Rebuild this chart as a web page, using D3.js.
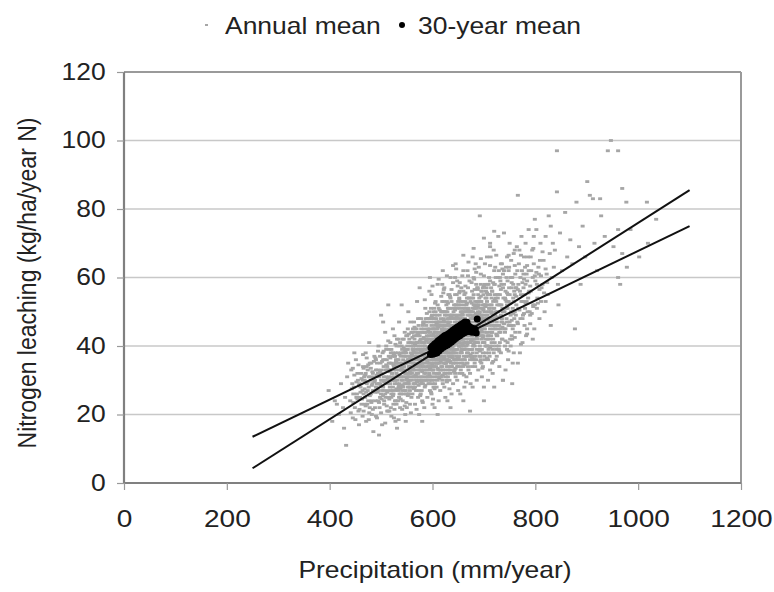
<!DOCTYPE html>
<html><head><meta charset="utf-8">
<script src="https://cdn.jsdelivr.net/npm/d3@7/dist/d3.min.js"></script>
<style>
html,body{margin:0;padding:0;background:#fff;}
svg text{font-family:"Liberation Sans",Arial,sans-serif;fill:#222;}
</style></head>
<body><svg id="c" width="774" height="592"></svg>
<script>
const xTicks = [0,200,400,600,800,1000,1200];
const yTicks = [0,20,40,60,80,100,120];
const legendLabels = ["Annual mean","30-year mean"];
const xTitle = "Precipitation (mm/year)";
const yTitle = "Nitrogen leaching (kg/ha/year N)";

// regression lines: [x1,y1,x2,y2]
const fitLines = [[250,4.3,1100,85.5],[250,13.5,1100,75]];

// 30-year mean points [precip, leaching]
const meanPts = [[596,37.5],[597,39.5],[599,38],[600,40],[601,37.6],[602,39],[604,40.6],[605,37.8],[606,39.3],[608,41],[609,38],[610,39.8],[611,41.5],[613,38.6],[614,40.5],[615,42],[617,39.2],[618,41],[619,42.5],[621,39.6],[622,41.3],[623,43],[625,40],[626,41.7],[627,43.2],[629,40.3],[630,42],[631,43.6],[633,40.7],[634,42.3],[635,44],[637,41.2],[638,42.8],[639,44.5],[641,41.7],[642,43.3],[643,45],[645,42.2],[646,43.8],[647,45.4],[649,42.6],[650,44.2],[651,45.8],[653,43],[654,44.6],[655,46.2],[657,43.4],[658,45],[659,46.6],[661,43.8],[662,45.4],[663,47],[665,44.1],[666,45.6],[667,46.9],[669,44.3],[671,45.8],[673,44.2],[675,45.3],[677,44],[679,45.1],[681,44.2],[683,44.9],[685,43.8],[687,47.9],[612,40],[624,41.5],[636,42.5],[648,44],[660,45]];

// annual mean points [precip, leaching]
const annualPts = [
[398,27],[405,18],[410,24],[414,23],[432,11],[436,35],
[418,20],[422,29],[428,16],[430,25],[434,31],[426,22],
[440,24],[442,33],[445,19],[447,28],[449,22],[451,36],[453,26],[455,30],[457,17],[459,25],[461,32],[444,29],[456,21],[448,38],
[464,27],[465,34],[466,21],[468,30],[469,25],[470,38],[471,18],[472,29],[474,33],[475,24],[476,28],[477,41],[478,22],[479,31],[480,26],[481,35],[482,20],[483,29],[484,32],[485,15],[486,27],[487,37],[473,23],[467,31],
[488,30],[489,24],[490,36],[491,28],[492,19],[493,33],[494,27],[495,40],[496,31],[497,22],[498,29],[499,35],[500,26],[501,32],[502,17],[503,38],[504,28],[505,34],[506,23],[507,30],[508,44],[509,25],[510,31],[511,36],[512,21],[490,28],[494,32],[498,25],[502,30],[506,27],[510,39],[504,47],[496,14],[500,33],[492,29],[508,26],[512,34],[500,49],
[513,30],[514,25],[515,37],[516,33],[517,28],[518,41],[519,22],[520,31],[521,35],[522,27],[523,45],[524,30],[525,19],[526,34],[527,29],[528,38],[529,24],[530,32],[531,16],[532,36],[533,27],[534,42],[535,31],[536,26],[537,35],[514,33],[516,21],[518,29],[520,39],[522,32],[524,26],[526,43],[528,30],[530,23],[532,34],[534,28],[536,40],[515,31],[517,35],[519,27],[521,30],[523,38],[525,33],[527,24],[529,36],[531,29],[533,31],[535,47],[537,22],[526,37],[520,26],[530,35],[514,52],[528,18],
[538,33],[539,28],[540,40],[541,35],[542,24],[543,31],[544,37],[545,29],[546,44],[547,33],[548,27],[549,38],[550,22],[551,35],[552,31],[553,41],[554,26],[555,34],[556,30],[557,47],[558,36],[559,25],[560,32],[561,39],[562,28],[538,37],[540,30],[542,42],[544,26],[546,35],[548,32],[550,39],[552,28],[554,36],[556,23],[558,33],[560,41],[562,35],[539,31],[541,27],[543,38],[545,34],[547,20],[549,30],[551,43],[553,33],[555,28],[557,37],[559,31],[561,26],[540,52],[546,39],[552,36],[558,40],[544,33],[550,29],[556,34],[562,45],[548,18],[554,31],[560,36],[542,34],[553,50],[547,29],[557,32],
[563,36],[564,31],[565,42],[566,28],[567,38],[568,34],[569,45],[570,30],[571,37],[572,25],[573,40],[574,33],[575,48],[576,29],[577,36],[578,41],[579,27],[580,35],[581,31],[582,44],[583,38],[584,22],[585,33],[586,39],[587,30],[563,40],[565,33],[567,29],[569,37],[571,43],[573,31],[575,36],[577,26],[579,39],[581,34],[583,47],[585,28],[587,42],[564,35],[566,39],[568,27],[570,44],[572,36],[574,30],[576,40],[578,33],[580,24],[582,38],[584,35],[586,31],[563,29],[567,41],[571,33],[575,38],[579,35],[583,30],[587,36],[565,37],[569,31],[573,46],[577,34],[581,40],[585,37],[564,43],[568,38],[572,32],[576,35],[580,39],[584,41],[570,53],[574,20],[578,45],[582,29],[586,51],[566,23],[575,57],[580,18],[585,44],[572,39],[577,30],
[588,38],[589,33],[590,44],[591,36],[592,29],[593,41],[594,35],[595,48],[596,31],[597,39],[598,26],[599,43],[600,37],[601,33],[602,50],[603,40],[604,30],[605,36],[606,45],[607,34],[608,28],[609,42],[610,38],[611,32],[612,47],[588,42],[590,35],[592,39],[594,45],[596,37],[598,33],[600,41],[602,28],[604,44],[606,36],[608,40],[610,30],[612,37],[589,47],[591,31],[593,37],[595,27],[597,43],[599,35],[601,39],[603,32],[605,46],[607,41],[609,35],[611,43],[588,30],[592,48],[596,44],[600,31],[604,38],[608,35],[612,41],[590,39],[594,32],[598,40],[602,36],[606,31],[610,46],[589,37],[593,34],[597,51],[601,45],[605,29],[609,38],[591,42],[595,38],[599,30],[603,47],[607,37],[611,36],[594,56],[600,23],[606,53],[612,24],[590,25],[598,55],[604,22],[610,58],[596,34],[602,42],[608,44],[592,35],[600,48],[605,40],[595,60],[610,20],[603,35],
[613,40],[614,35],[615,46],[616,38],[617,31],[618,43],[619,37],[620,50],[621,33],[622,41],[623,28],[624,45],[625,39],[626,35],[627,52],[628,42],[629,32],[630,38],[631,47],[632,36],[633,30],[634,44],[635,40],[636,34],[637,49],[613,44],[615,37],[617,41],[619,47],[621,39],[623,35],[625,43],[627,30],[629,46],[631,38],[633,42],[635,32],[637,39],[614,49],[616,33],[618,39],[620,29],[622,45],[624,37],[626,41],[628,34],[630,48],[632,43],[634,37],[636,45],[613,32],[617,50],[621,46],[625,33],[629,40],[633,37],[637,43],[615,41],[619,34],[623,42],[627,38],[631,33],[635,48],[614,39],[618,36],[622,53],[626,47],[630,31],[634,40],[616,44],[620,40],[624,32],[628,49],[632,39],[636,38],[619,58],[625,25],[631,55],[637,26],[615,27],[623,57],[629,24],[635,60],[621,36],[627,44],[633,46],[617,37],[625,50],[630,42],[620,62],[635,22],[628,36],[618,45],[626,31],[632,51],
[638,42],[639,37],[640,48],[641,40],[642,33],[643,45],[644,39],[645,52],[646,35],[647,43],[648,30],[649,47],[650,41],[651,37],[652,54],[653,44],[654,34],[655,40],[656,49],[657,38],[658,32],[659,46],[660,42],[661,36],[662,51],[638,46],[640,39],[642,43],[644,49],[646,41],[648,37],[650,45],[652,32],[654,48],[656,40],[658,44],[660,34],[662,41],[639,51],[641,35],[643,41],[645,31],[647,47],[649,39],[651,43],[653,36],[655,50],[657,45],[659,39],[661,47],[638,34],[642,52],[646,48],[650,35],[654,42],[658,39],[662,45],[640,43],[644,36],[648,44],[652,40],[656,35],[660,50],[639,41],[643,38],[647,55],[651,49],[655,33],[659,42],[641,46],[645,42],[649,34],[653,51],[657,41],[661,40],[644,60],[650,27],[656,57],[662,28],[640,29],[648,59],[654,26],[660,62],[646,38],[652,46],[658,48],[642,39],[650,53],[655,44],[645,64],[660,24],
[663,44],[664,39],[665,50],[666,42],[667,35],[668,47],[669,41],[670,54],[671,37],[672,45],[673,32],[674,49],[675,43],[676,39],[677,56],[678,46],[679,36],[680,42],[681,51],[682,40],[683,34],[684,48],[685,44],[686,38],[687,53],[663,48],[665,41],[667,45],[669,51],[671,43],[673,39],[675,47],[677,34],[679,50],[681,42],[683,46],[685,36],[687,43],[664,53],[666,37],[668,43],[670,33],[672,49],[674,41],[676,45],[678,38],[680,52],[682,47],[684,41],[686,49],[663,36],[667,54],[671,50],[675,37],[679,44],[683,41],[687,47],[665,45],[669,38],[673,46],[677,42],[681,37],[685,52],[668,62],[674,29],[680,60],[686,30],[666,31],[672,59],[678,28],[684,64],[670,44],[676,50],[682,35],[673,21],[678,66],
[688,46],[689,41],[690,52],[691,44],[692,37],[693,49],[694,43],[695,56],[696,39],[697,47],[698,34],[699,51],[700,45],[701,41],[702,58],[703,48],[704,38],[705,44],[706,53],[707,42],[708,36],[709,50],[710,46],[711,40],[712,55],[688,50],[690,43],[692,47],[694,53],[696,45],[698,41],[700,49],[702,36],[704,52],[706,44],[708,48],[710,38],[712,45],[689,55],[691,39],[693,45],[695,35],[697,51],[699,43],[701,47],[703,40],[705,54],[707,49],[709,43],[711,51],[692,78],[690,63],[696,31],[702,64],[708,30],[694,61],[700,28],[706,66],[712,33],[698,57],[704,46],[710,60],[689,33],[695,48],[701,37],[707,58],[712,70],[700,24],[705,40],
[713,48],[714,43],[715,54],[716,46],[717,39],[718,51],[719,45],[720,58],[721,41],[722,49],[723,36],[724,53],[725,47],[726,43],[727,60],[728,50],[729,40],[730,46],[731,55],[732,44],[733,38],[734,52],[735,48],[736,42],[737,57],[714,50],[716,56],[718,42],[720,48],[722,63],[724,39],[726,52],[728,45],[730,34],[732,59],[734,47],[736,51],[713,66],[717,32],[721,55],[725,37],[729,62],[733,49],[737,30],[715,44],[719,68],[723,46],[727,54],[731,41],[735,64],[712,69],[728,72],[720,28],[737,50],[716,35],
[738,50],[740,45],[742,56],[744,48],[746,41],[748,53],[750,47],[752,60],[754,43],[756,51],[758,38],[760,55],[762,49],[739,58],[741,44],[743,63],[745,52],[747,36],[749,57],[751,46],[753,65],[755,42],[757,54],[759,48],[761,61],[737,30],[755,29],[742,33],[750,70],[758,67],[745,39],[753,50],[761,44],[739,73],[748,62],[756,35],[762,57],[744,53],[760,68],[752,40],[746,59],[758,46],
[763,52],[765,47],[767,58],[769,44],[770,38],[772,55],[774,62],[776,49],[778,66],[780,51],[782,43],[784,59],[786,54],[764,69],[766,84],[768,64],[771,48],[773,72],[775,41],[777,57],[779,46],[781,70],[783,61],[785,50],[787,74],[770,56],[766,35],[776,53],[784,45],[780,63],
[788,56],[790,49],[792,62],[794,68],[796,52],[798,45],[800,59],[802,74],[804,54],[806,63],[808,48],[810,70],[812,57],[791,66],[795,42],[799,77],[803,51],[807,61],[811,53],[797,72],
[814,58],[816,65],[818,50],[820,72],[822,61],[824,55],[826,78],[828,67],[830,46],[832,60],[834,70],[836,63],[820,53],[830,75],
[838,68],[842,85],[844,58],[848,73],[852,62],[842,97],[858,79],[862,66],[845,52],
[868,71],[872,64],[877,45],[880,82],[885,69],[888,58],
[892,75],[897,66],[901,88],[906,84],[912,83],[915,70],[920,62],[926,83],
[928,78],[935,72],[941,97],[947,100],[952,69],[961,97],[965,58],[961,60],[969,86],[978,63],[977,82],[985,74],[961,74],[969,67],
[1002,66],[1017,82],[1019,70],[1035,77],
[505,31],[507,36],[509,29],[511,33],[513,27],[515,35],[517,30],[519,38],[521,32],[523,28],[525,34],[506,24],[510,40],[514,21],[518,33],[522,37],[524,23],[508,33],[512,29],[516,39],[520,25],
[526,31],[527,37],[528,27],[529,33],[530,40],[531,35],[532,30],[533,24],[534,36],[535,33],[536,29],[537,41],[538,35],[539,26],[540,33],[541,39],[542,30],[543,36],[544,42],[545,31],[546,27],[547,37],[548,35],[549,43],[550,32],[527,30],[531,42],[535,25],[539,38],[543,28],[547,32],[551,37],[529,35],[533,38],[537,31],[541,33],[545,38],[549,26],
[551,31],[552,39],[553,36],[554,29],[555,42],[556,37],[557,28],[558,35],[559,44],[560,30],[561,36],[562,40],[563,33],[564,38],[565,29],[566,45],[567,35],[568,40],[569,32],[570,37],[571,41],[572,34],[573,27],[574,39],[575,43],[552,45],[554,34],[556,27],[558,38],[560,44],[562,31],[564,47],[566,34],[568,30],[570,41],[572,48],[574,36],[553,26],[557,41],[561,33],[565,36],[569,43],[573,35],[551,40],[555,32],[559,37],[563,44],[567,31],[571,38],[575,30],
[576,37],[577,42],[578,31],[579,44],[580,38],[581,35],[582,47],[583,33],[584,40],[585,36],[586,44],[587,32],[588,46],[589,39],[590,31],[591,45],[592,37],[593,43],[594,29],[595,40],[596,47],[597,35],[598,42],[599,38],[600,45],[576,44],[578,38],[580,30],[582,41],[584,45],[586,36],[588,34],[590,48],[592,42],[594,38],[596,30],[598,46],[600,34],[577,33],[579,39],[581,46],[583,37],[585,41],[587,48],[589,43],[591,34],[593,30],[595,44],[597,40],[599,49],[578,48],[582,34],[586,40],[590,42],[594,50],[598,36],[580,42],[584,32],[588,39],[592,33],[596,41],[600,29],
[601,42],[602,37],[603,45],[604,34],[605,49],[606,40],[607,35],[608,47],[609,31],[610,43],[611,39],[612,51],[613,36],[614,42],[615,33],[616,48],[617,39],[618,45],[619,30],[620,43],[621,50],[622,37],[623,46],[624,40],[625,35],[601,48],[603,36],[605,42],[607,48],[609,45],[611,33],[613,47],[615,43],[617,34],[619,41],[621,42],[623,32],[625,46],[602,33],[604,48],[606,43],[608,38],[610,52],[612,35],[614,46],[616,40],[618,31],[620,47],[622,43],[624,49],[601,36],[605,38],[609,49],[613,39],[617,46],[621,35],[625,41],[603,51],[607,44],[611,47],[615,38],[619,53],[623,39],[604,41],[608,32],[612,44],[616,36],[620,38],[624,44],[606,50],[610,36],[614,31],[618,50],[622,48],
[626,44],[627,39],[628,47],[629,36],[630,51],[631,42],[632,37],[633,49],[634,33],[635,45],[636,41],[637,53],[638,38],[639,44],[640,35],[641,50],[642,41],[643,47],[644,32],[645,45],[646,52],[647,39],[648,48],[649,42],[650,37],[626,50],[628,38],[630,44],[632,48],[634,47],[636,35],[638,49],[640,45],[642,36],[644,43],[646,44],[648,34],[650,48],[627,35],[629,50],[631,45],[633,40],[635,54],[637,37],[639,48],[641,42],[643,33],[645,49],[647,45],[649,51],[626,38],[630,40],[634,51],[638,41],[642,48],[646,37],[650,43],[628,53],[632,46],[636,49],[640,40],[644,55],[648,41],[627,43],[631,34],[635,37],[639,38],[643,51],[647,36],[629,43],[633,55],[637,46],[641,38],[645,36],[649,46],
[651,46],[652,41],[653,49],[654,38],[655,53],[656,44],[657,39],[658,51],[659,35],[660,47],[661,43],[662,55],[663,40],[664,46],[665,37],[666,52],[667,43],[668,49],[669,34],[670,47],[671,54],[672,41],[673,50],[674,44],[675,39],[651,52],[653,40],[655,46],[657,50],[659,49],[661,37],[663,51],[665,47],[667,38],[669,45],[671,46],[673,36],[675,50],[652,37],[654,52],[656,47],[658,42],[660,56],[662,39],[664,50],[666,44],[668,35],[670,51],[672,47],[674,53],[651,40],[655,42],[659,53],[663,43],[667,50],[671,39],[675,45],[653,56],[657,46],[661,52],[665,41],[669,57],[673,43],[654,45],[658,36],[662,48],[666,40],[670,42],[674,48],
[676,48],[677,43],[678,51],[679,40],[680,55],[681,46],[682,41],[683,53],[684,37],[685,49],[686,45],[687,57],[688,42],[689,48],[690,39],[691,54],[692,45],[693,51],[694,36],[695,49],[696,56],[697,43],[698,52],[699,46],[700,41],[676,54],[678,42],[680,48],[682,52],[684,51],[686,39],[688,53],[690,49],[692,40],[694,47],[696,48],[698,38],[700,52],[677,39],[679,54],[681,49],[683,44],[685,58],[687,41],[689,52],[691,46],[693,37],[695,53],[697,49],[699,55],[680,44],[684,45],[688,57],[692,50],[696,42],[700,48],[682,36],[686,51],[690,44],[694,58],[698,44],
[701,50],[702,45],[703,54],[704,42],[705,57],[706,48],[707,43],[708,55],[709,39],[710,51],[711,47],[712,59],[713,44],[714,50],[715,41],[716,56],[717,47],[718,53],[719,38],[720,51],[721,58],[722,45],[723,54],[724,48],[725,43],[702,52],[704,56],[706,40],[708,50],[710,55],[712,42],[714,57],[716,44],[718,48],[720,62],[722,50],[724,40],[703,46],[707,52],[711,37],[715,52],[719,46],[723,60],[705,49],[709,58],[713,52],[717,40],[721,49],[725,55],
[726,50],[728,55],[730,44],[732,52],[734,58],[736,47],[738,54],[740,50],[742,45],[744,60],[746,51],[748,46],[750,55],[752,49],[754,57],[756,45],[758,53],[760,50],[727,46],[731,60],[735,42],[739,62],[743,51],[747,55],[751,42],[755,60],[759,56],[729,52],[733,45],[737,61],[741,54],[745,47],[749,63],[753,46],[757,58],[729,39],[745,66],[733,64],[741,40],
[763,57],[767,51],[771,60],[775,48],[779,55],[783,53],[787,62],[791,56],[795,60],[799,52],[765,62],[773,53],[781,58],[789,50],[797,64],[803,58],[809,65],[769,68],[777,61],[785,66],
[452,25],[458,29],[462,23],[466,26],[470,32],[474,27],[478,35],[482,24],[486,31],[490,33],[494,24],[498,37],[502,27],[460,28],[468,23],[476,31],[484,27],[492,35],[500,30],[504,36],[446,26],[454,32],[480,30],[488,22],[496,29],[472,34],[464,30],
[441,20.5],[443,27.5],[446,23.5],[448,31.5],[450,18.5],[452,29.5],[454,24.5],[456,34.5],[458,21.5],[460,26.5],[462,30.5],[464,19.5],[466,33.5],[468,27.5],[470,22.5],[472,36.5],[474,29.5],[476,18.5],[478,25.5],[480,33.5],[482,28.5],[484,21.5],[486,35.5],[488,26.5],[490,19.5],[492,31.5],[494,38.5],[496,23.5],[498,32.5],[500,20.5],[502,35.5],[504,25.5],[506,29.5],[508,17.5],[510,34.5],[512,26.5],[514,41.5],[516,24.5],[518,36.5],[520,19.5],[522,30.5],[524,34.5],[526,21.5],[528,40.5],[530,27.5],[532,31.5],[534,18.5],[536,37.5],[538,24.5],[540,33.5],[542,28.5],[544,39.5],[546,22.5],[548,35.5],[550,30.5],[552,25.5],[554,43.5],[556,32.5],[558,20.5],[560,37.5],
[445,33.5],[457,28.5],[463,24.5],[469,31.5],[475,34.5],[481,23.5],[487,29.5],[493,26.5],[499,28.5],[505,38.5],[511,22.5],[517,32.5],[523,25.5],[529,35.5],[535,28.5],[541,21.5],[547,38.5],[553,29.5],[559,33.5],[465,37.5],[477,20.5],[489,36.5],[501,24.5],[513,30.5],[525,37.5],[537,27.5],[549,23.5],[561,42.5],[471,26.5],[483,32.5],
[562,33.5],[564,27.5],[566,40.5],[568,36.5],[570,29.5],[572,43.5],[574,34.5],[576,25.5],[578,38.5],[580,32.5],[582,46.5],[584,37.5],[586,28.5],[588,41.5],[590,35.5],[592,44.5],[594,31.5],[596,39.5],[598,48.5],[600,34.5],[602,43.5],[604,27.5],[606,38.5],[608,46.5],[610,33.5],[612,40.5],[614,50.5],[616,35.5],[618,42.5],[620,31.5],[622,47.5],[624,38.5],[626,44.5],[628,29.5],[630,52.5],[632,41.5],[634,35.5],[636,48.5],[638,39.5],[640,45.5],[642,32.5],[644,50.5],[646,40.5],[648,46.5],[650,36.5],[652,53.5],[654,43.5],[656,38.5],[658,49.5],[660,44.5],[662,34.5],[664,55.5],[666,47.5],[668,40.5],[670,50.5],[672,43.5],[674,37.5],[676,52.5],[678,45.5],[680,40.5],[682,56.5],[684,49.5],[686,42.5],[688,51.5],[690,46.5],[692,38.5],[694,54.5],[696,47.5],[698,42.5],[700,57.5],
[563,38.5],[567,31.5],[571,36.5],[575,41.5],[579,29.5],[583,42.5],[587,36.5],[591,39.5],[595,33.5],[599,41.5],[603,37.5],[607,42.5],[611,45.5],[615,39.5],[619,44.5],[623,36.5],[627,41.5],[631,46.5],[635,42.5],[639,36.5],[643,43.5],[647,48.5],[651,42.5],[655,47.5],[659,40.5],[663,46.5],[667,52.5],[671,45.5],[675,41.5],[679,48.5],[683,51.5],[687,45.5],[691,49.5],[695,44.5],[699,50.5],
[565,45.5],[573,28.5],[581,23.5],[589,49.5],[597,26.5],[605,52.5],[613,30.5],[621,55.5],[629,35.5],[637,56.5],[645,33.5],[653,58.5],[661,31.5],[669,60.5],[677,36.5],[685,61.5],[693,35.5],[569,21.5],[585,53.5],[601,24.5],[617,54.5],[633,27.5],[649,57.5],[665,29.5],[681,59.5],[697,33.5],
[622,56.5],[628,60.5],[634,54.5],[640,58.5],[646,62.5],[652,55.5],[658,60.5],[664,57.5],[670,64.5],[676,58.5],[682,62.5],[688,56.5],[694,65.5],[700,60.5],[706,55.5],[712,63.5],[718,58.5],[724,66.5],[730,57.5],[736,62.5],[742,53.5],[748,66.5],[754,58.5],[760,63.5],[766,56.5],[772,66.5],[778,59.5],[784,63.5],[790,57.5],[796,68.5],[802,61.5],[808,56.5],[814,67.5],[820,62.5],
[703,51.5],[709,47.5],[715,49.5],[721,53.5],[727,48.5],[733,56.5],[739,46.5],[745,55.5],[751,52.5],[757,49.5],[763,54.5],[769,50.5],[775,58.5],[781,52.5],[787,55.5],[793,49.5],[799,60.5],[805,52.5],[811,60.5],[817,55.5],[823,58.5],
[706,36.5],[712,39.5],[718,35.5],[724,43.5],[730,38.5],[736,45.5],[742,41.5],[748,38.5],[754,47.5],[760,42.5],[766,46.5],[772,40.5],[778,49.5],[784,43.5],[790,46.5],[796,51.5],[640,63.5],[660,66.5],[680,68.5],[700,71.5],[720,73.5],[612,59.5],[600,57.5]
];

const SX = 1.15; // horizontal stretch of glyphs seen in the reference
const svg = d3.select("#c");
const x = d3.scaleLinear().domain([0,1200]).range([124,741]);
const y = d3.scaleLinear().domain([0,120]).range([483,72]);

// gridlines
svg.append("g").selectAll("line").data(yTicks.filter(t=>t>0 && t<120)).join("line")
  .attr("x1",x(0)).attr("x2",x(1200)).attr("y1",d=>y(d)).attr("y2",d=>y(d))
  .attr("stroke","#c8c8c8").attr("stroke-width",1.5);

// frame top/right
svg.append("line").attr("x1",x(0)).attr("x2",x(1200)).attr("y1",y(120)).attr("y2",y(120)).attr("stroke","#9a9a9a").attr("stroke-width",2);
svg.append("line").attr("x1",x(1200)).attr("x2",x(1200)).attr("y1",y(120)).attr("y2",y(0)).attr("stroke","#9a9a9a").attr("stroke-width",2);

// annual points
svg.append("g").selectAll("rect").data(annualPts).join("rect")
  .attr("x",d=>x(d[0])-2).attr("y",d=>y(d[1])-1.4).attr("width",4).attr("height",2.8)
  .attr("fill","#a6a6a6");

// fit lines
svg.append("g").selectAll("line").data(fitLines).join("line")
  .attr("x1",d=>x(d[0])).attr("y1",d=>y(d[1])).attr("x2",d=>x(d[2])).attr("y2",d=>y(d[3]))
  .attr("stroke","#111").attr("stroke-width",2);

// 30-year mean points
svg.append("g").selectAll("circle").data(meanPts).join("circle")
  .attr("cx",d=>x(d[0])).attr("cy",d=>y(d[1])).attr("r",3.5).attr("fill","#000");

// axes
const xAxis = d3.axisBottom(x).tickValues(xTicks).tickSize(7).tickPadding(21).tickFormat(d3.format("d"));
const gx = svg.append("g").attr("transform",`translate(0,${y(0)})`).call(xAxis);
const yAxis = d3.axisLeft(y).tickValues(yTicks).tickSize(7).tickPadding(9).tickFormat(d3.format("d"));
const gy = svg.append("g").attr("transform",`translate(${x(0)},0)`).call(yAxis);
[gx,gy].forEach(g=>{
  g.select(".domain").attr("stroke","#808080").attr("stroke-width",2.2);
  g.selectAll(".tick line").attr("stroke","#999").attr("stroke-width",1.2);
  g.selectAll(".tick text").attr("font-size",23).attr("font-family","Liberation Sans, Arial, sans-serif")
    .attr("fill","#222").attr("transform",`scale(${SX},1)`);
});
gx.selectAll(".tick text").attr("transform",`scale(1.22,1)`);
gy.select(".domain").attr("d",`M0,${y(120)}V${y(0)}`);
gx.select(".domain").attr("d",`M${x(0)},0H${x(1200)}`);

function label(tx,ty,txt,anchor){
  return svg.append("text").attr("transform",`translate(${tx},${ty}) scale(${SX},1)`)
    .attr("text-anchor",anchor||"start").attr("font-size",23).text(txt);
}
// titles
label(435,578,xTitle,"middle");
svg.append("text").attr("transform",`translate(36,283) scale(${SX},1) rotate(-90)`)
  .attr("text-anchor","middle").attr("font-size",23).text(yTitle);

// legend
svg.append("rect").attr("x",205).attr("y",24).attr("width",3).attr("height",2).attr("fill","#a6a6a6");
label(225,34,legendLabels[0]);
svg.append("circle").attr("cx",402).attr("cy",25).attr("r",3).attr("fill","#000");
label(418,34,legendLabels[1]);
</script></body></html>
